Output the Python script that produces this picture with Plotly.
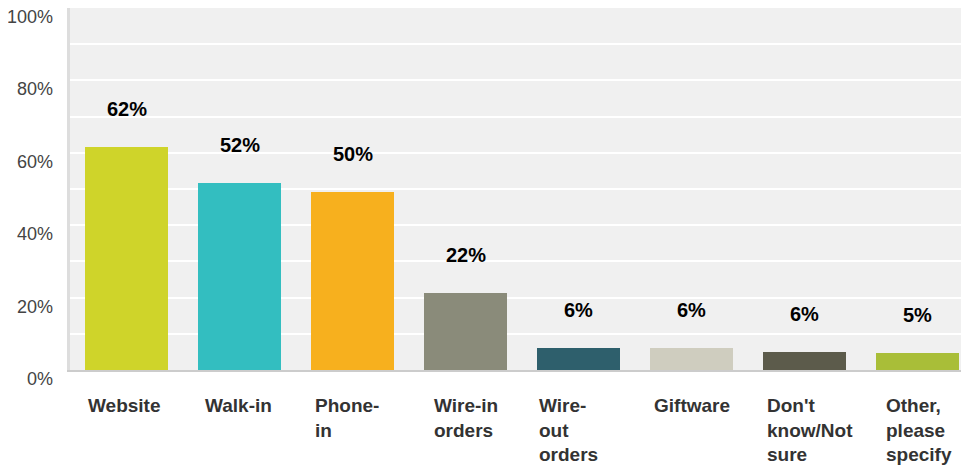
import plotly.graph_objects as go

categories = ["Website", "Walk-in", "Phone-in", "Wire-in orders", "Wire-out orders",
              "Giftware", "Don't know/Not sure", "Other, please specify"]
tick_labels = ["Website", "Walk-in", "Phone-<br>in", "Wire-in<br>orders", "Wire-<br>out<br>orders",
               "Giftware", "Don't<br>know/Not<br>sure", "Other,<br>please<br>specify"]
values = [61.5, 51.7, 49.2, 21.4, 6.1, 6.1, 5.1, 4.8]
value_labels = ["62%", "52%", "50%", "22%", "6%", "6%", "6%", "5%"]
colors = ["#cfd42a", "#33bec0", "#f7b01e", "#8a8b7a", "#2e5f6c", "#cfcdbf", "#5c5b4b", "#a9be38"]
y_ticks = [0, 20, 40, 60, 80, 100]
y_tick_text = ["0%", "20%", "40%", "60%", "80%", "100%"]

# pixel nudges of the category labels from the bar's left edge (style only)
label_dx = [2, 6, 3, 9, 1, 3, 3, 9]

BAR_W = 0.73
xs = list(range(len(categories)))
FONT = "Liberation Sans, Arial"

fig = go.Figure()
fig.add_trace(go.Bar(x=xs, y=values, width=BAR_W, marker=dict(color=colors, line=dict(width=0)),
                     hoverinfo="skip"))

annotations = []
for i, (v, t) in enumerate(zip(values, value_labels)):
    annotations.append(dict(x=i, y=v, xref="x", yref="y", text="<b>%s</b>" % t, showarrow=False,
                            yanchor="middle", yshift=38,
                            font=dict(family=FONT, size=20, color="#000000")))
for i, t in enumerate(tick_labels):
    annotations.append(dict(x=i - BAR_W / 2, y=0, xref="x", yref="y", text="<b>%s</b>" % t,
                            showarrow=False, xanchor="left", yanchor="top", align="left", yshift=-23,
                            xshift=label_dx[i] - 1,
                            font=dict(family=FONT, size=19, color="#333333")))
for v, t in zip(y_ticks, y_tick_text):
    annotations.append(dict(x=0, y=v, xref="paper", yref="y", text=t, showarrow=False,
                            xanchor="right", yanchor="middle", xshift=-15, yshift=-9,
                            font=dict(family=FONT, size=18, color="#444444")))

fig.update_layout(
    width=961, height=457,
    margin=dict(l=62, r=0, t=0, b=95),
    paper_bgcolor="white", plot_bgcolor="#f0f0f0",
    showlegend=False, bargap=0,
    annotations=annotations,
    xaxis=dict(range=[-0.5, 7.455], showticklabels=False, showgrid=False,
               zeroline=False, showline=True, linecolor="#cccccc", linewidth=2, ticks=""),
    yaxis=dict(range=[0, 100], tickvals=list(range(0, 101, 10)), showticklabels=False,
               showgrid=True, gridcolor="#ffffff", gridwidth=2, zeroline=False,
               showline=True, linecolor="#dddddd", linewidth=3, ticks=""),
)

fig.write_html("out.html")
